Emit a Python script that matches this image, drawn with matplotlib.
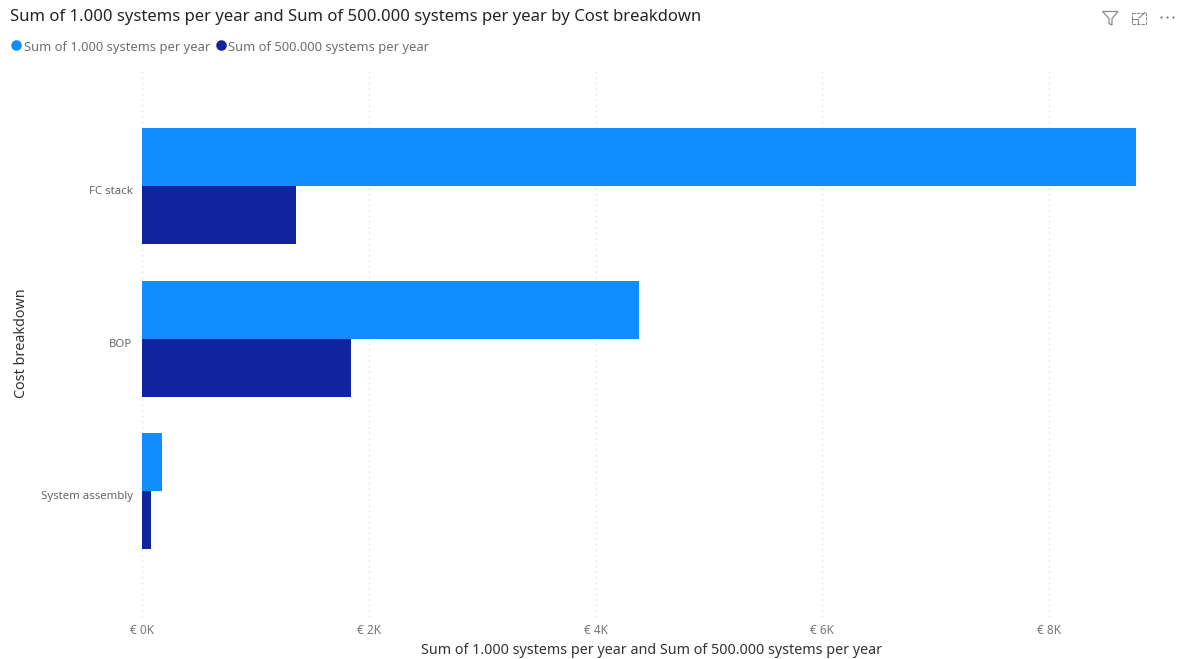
import matplotlib
matplotlib.use("Agg")
import matplotlib.pyplot as plt
from matplotlib.patches import Polygon, Rectangle
from matplotlib.transforms import ScaledTranslation

categories = ["FC stack", "BOP", "System assembly"]
systems_1000 = [8.77, 4.38, 0.176]
systems_500000 = [1.36, 1.84, 0.08]
x_ticks = [0, 2, 4, 6, 8]
x_tick_labels = ["€ 0K", "€ 2K", "€ 4K", "€ 6K", "€ 8K"]
series_names = ["Sum of 1.000 systems per year", "Sum of 500.000 systems per year"]
title = "Sum of 1.000 systems per year and Sum of 500.000 systems per year by Cost breakdown"
x_label = "Sum of 1.000 systems per year and Sum of 500.000 systems per year"
y_label = "Cost breakdown"

LIGHT = "#118DFF"
DARK = "#12239E"
W, H = 1177, 659
plt.rcParams["font.family"] = ["Noto Sans", "DejaVu Sans"]

fig = plt.figure(figsize=(W / 100, H / 100), dpi=100, facecolor="white")
L, R, T, B = 142, 1136, 67.5, 616.5
ax = fig.add_axes([L / W, 1 - B / H, (R - L) / W, (B - T) / H])
ys = list(range(len(categories)))
bh = 0.38
ax.barh([y - bh / 2 for y in ys], systems_1000, height=bh, color=LIGHT, zorder=3)
ax.barh([y + bh / 2 for y in ys], systems_500000, height=bh, color=DARK, zorder=3)
ax.set_xlim(0, 8.765)
ax.set_ylim(2.82, -0.78)
for s in ax.spines.values():
    s.set_visible(False)
ax.set_xticks(x_ticks, x_tick_labels, color="#777777", fontsize=8.5)
ax.set_yticks(ys, categories, color="#666666", fontsize=8.2)
ax.tick_params(length=0)
ax.tick_params(axis="x", pad=5.5)
ax.tick_params(axis="y", pad=6.8)
shift = ScaledTranslation(0, -3.7 / 100, fig.dpi_scale_trans)
for lab in ax.get_yticklabels():
    lab.set_transform(lab.get_transform() + shift)
ax.grid(axis="x", color="#dedede", linestyle=(0, (1, 3)), linewidth=1, zorder=0)
ax.set_axisbelow(True)

fig.text(10 / W, 1 - 17 / H, title, fontsize=12.0, color="#252423", va="center", ha="left")
fig.text(652 / W, 1 - 651 / H, x_label, fontsize=10.3, color="#333333", va="center", ha="center")
fig.text(22 / W, 1 - 343 / H, y_label, fontsize=10.3, color="#333333", va="center", ha="center", rotation=90)

# Overlay in pixel coordinates for legend and header icons
ov = fig.add_axes([0, 0, 1, 1], facecolor="none")
ov.set_xlim(0, W)
ov.set_ylim(H, 0)
ov.axis("off")
ov.plot([16], [45], "o", ms=7.6, color=LIGHT, mew=0)
ov.plot([221], [45], "o", ms=7.6, color=DARK, mew=0)
ov.text(24, 47, series_names[0], fontsize=9.3, color="#6f6f6f", va="center")
ov.text(228, 47, series_names[1], fontsize=9.3, color="#6f6f6f", va="center")

icon = "#8a8a8a"
ov.add_patch(Polygon([(1102.5, 11.5), (1118, 11.5), (1112, 18.5), (1112, 25), (1109, 23.5), (1109, 18.5)],
                     closed=True, fill=False, ec=icon, lw=0.9))
ov.add_patch(Rectangle((1132, 12.5), 13.5, 11, fill=False, ec=icon, lw=0.8, ls=(0, (3, 1))))
ov.plot([1132, 1138, 1138], [19, 19, 23.5], color=icon, lw=0.8)
ov.plot([1139, 1145], [18, 12.5], color=icon, lw=0.8)
ov.plot([1160.5, 1167, 1173], [17, 17, 17], "o", ms=1.7, color=icon, mew=0)

fig.savefig("out.png", dpi=100, facecolor="white")
